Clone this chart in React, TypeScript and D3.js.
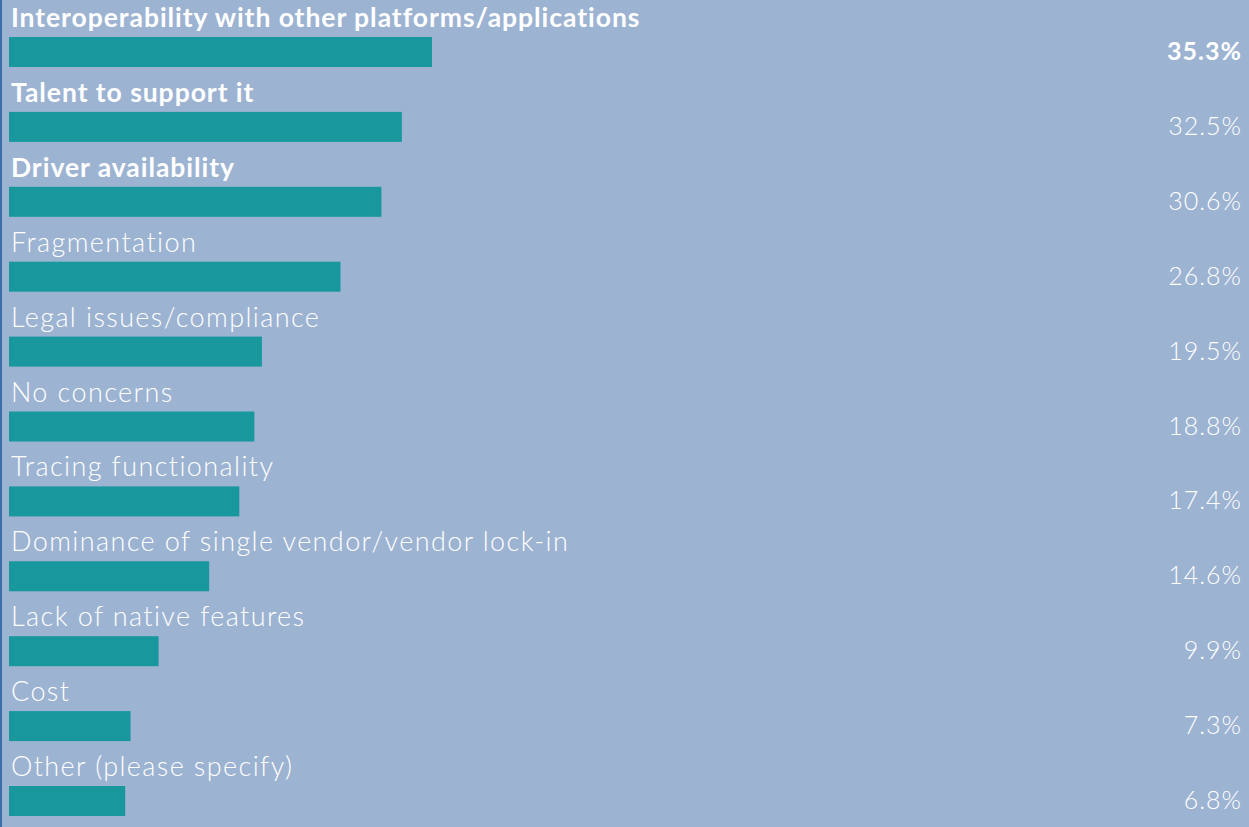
import React, { useEffect, useRef } from 'react';
import * as d3 from 'd3';

const categories = [
  'Interoperability with other platforms/applications',
  'Talent to support it',
  'Driver availability',
  'Fragmentation',
  'Legal issues/compliance',
  'No concerns',
  'Tracing functionality',
  'Dominance of single vendor/vendor lock-in',
  'Lack of native features',
  'Cost',
  'Other (please specify)',
];
const values = [35.3, 32.5, 30.6, 26.8, 19.5, 18.8, 17.4, 14.6, 9.9, 7.3, 6.8];
const valueLabels = ['35.3%', '32.5%', '30.6%', '26.8%', '19.5%', '18.8%', '17.4%', '14.6%', '9.9%', '7.3%', '6.8%'];

const W = 1249;
const H = 827;

export default function App() {
  const svgRef = useRef<SVGSVGElement>(null);

  useEffect(() => {
    if (!svgRef.current) return;
    const svg = d3.select(svgRef.current);
    svg.selectAll('*').remove();

    const rows = categories.map((c, i) => ({ c, v: values[i], label: valueLabels[i], i }));

    // top edge of each bar
    const y = d3.scalePoint<string>().domain(categories).range([37, 786]);
    // bars start a bit in from the left edge
    const x = d3.scaleLinear().domain([0, 35.3]).range([52, 432]);
    const barH = 30;
    const left = 9;

    svg.append('rect').attr('width', W).attr('height', H).attr('fill', '#9db3d2');
    svg.append('rect').attr('width', 2).attr('height', H).attr('fill', '#3a6fa8');

    const g = svg.append('g');

    g.selectAll('rect.bar')
      .data(rows)
      .join('rect')
      .attr('class', 'bar')
      .attr('x', left)
      .attr('y', d => y(d.c)!)
      .attr('width', d => x(d.v) - left)
      .attr('height', barH)
      .attr('fill', '#18979d');

    // first three labels are bold
    g.selectAll('text.cat')
      .data(rows)
      .join('text')
      .attr('class', 'cat')
      .attr('x', 11)
      .attr('y', d => y(d.c)! - 10)
      .attr('fill', '#fff')
      .attr('font-family', 'Lato, sans-serif')
      .attr('font-size', d => (d.i < 3 ? 26.5 : 27))
      .attr('font-weight', d => (d.i < 3 ? 700 : 300))
      .attr('letter-spacing', d => (d.i < 3 ? 0.95 : 1.4))
      .text(d => d.c);

    g.selectAll('text.val')
      .data(rows)
      .join('text')
      .attr('class', 'val')
      .attr('x', 1242)
      .attr('y', d => y(d.c)! + 23)
      .attr('text-anchor', 'end')
      .attr('fill', '#fff')
      .attr('font-family', 'Lato, sans-serif')
      .attr('font-size', 25)
      .attr('font-weight', d => (d.i === 0 ? 700 : 300))
      .attr('letter-spacing', 1)
      .text(d => d.label);
  }, []);

  return (
    <>
      <style>{'body{margin:0}'}</style>
      <svg ref={svgRef} width={W} height={H} style={{ display: 'block' }} />
    </>
  );
}
